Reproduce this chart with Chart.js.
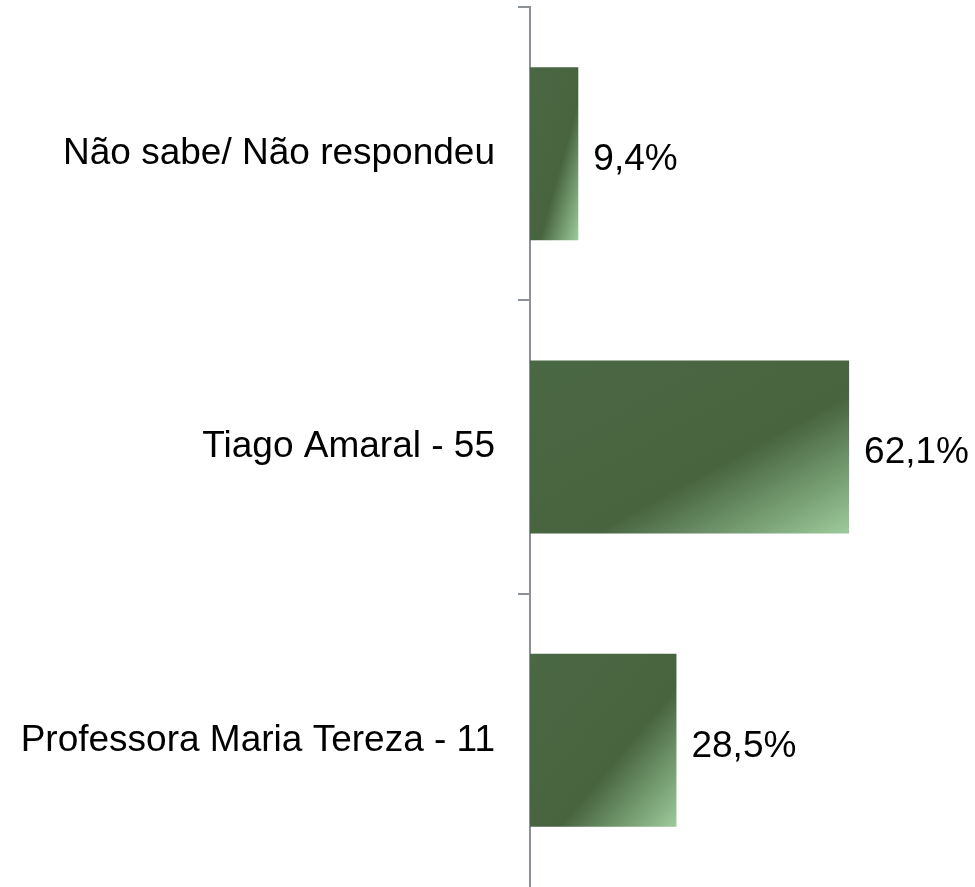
<!DOCTYPE html>
<html>
<head>
<meta charset="utf-8">
<script src="https://cdn.jsdelivr.net/npm/chart.js@4"></script>
<style>
  html, body { margin: 0; padding: 0; background: #fff; }
  #wrap { width: 975px; height: 887px; }
</style>
</head>
<body>
<div id="wrap"><canvas id="grafico"></canvas></div>
<script>
var categorias = ["Não sabe/ Não respondeu", "Tiago Amaral - 55", "Professora Maria Tereza - 11"];
var valores = [9.4, 62.1, 28.5];
var escalaMax = 86.6;
var espessura = 0.59;

// gradiente diagonal como no Office: escuro até ~60%, clareando no canto inferior direito
function gradienteBarra(c) {
  var chart = c.chart;
  var sx = chart.scales.x, sy = chart.scales.y;
  if (!chart.chartArea || !sx || !sy) return '#4a6843';
  var x0 = sx.getPixelForValue(0), x1 = sx.getPixelForValue(valores[c.dataIndex]);
  var banda = chart.chartArea.height / categorias.length;
  var cy = sy.getPixelForValue(c.dataIndex);
  var h = banda * espessura, w = x1 - x0;
  if (!isFinite(w) || !isFinite(h) || !isFinite(cy) || w <= 0 || h <= 0) return '#4a6843';
  var cx = (x0 + x1) / 2;
  var L = Math.sqrt(w * w + h * h);
  var d = w * h / L;
  var ux = h / L, uy = w / L;
  var g = chart.ctx.createLinearGradient(cx - d * ux, cy - d * uy, cx + d * ux, cy + d * uy);
  g.addColorStop(0, '#4a6843');
  g.addColorStop(0.6, '#47643f');
  g.addColorStop(1, '#9dcb9c');
  return g;
}

var rotulosValor = {
  id: 'rotulosValor',
  afterDatasetsDraw: function(chart) {
    var ctx = chart.ctx;
    var meta = chart.getDatasetMeta(0);
    ctx.save();
    ctx.font = '37px "Liberation Sans", Arial, sans-serif';
    ctx.fillStyle = '#000';
    ctx.textAlign = 'left';
    ctx.textBaseline = 'middle';
    meta.data.forEach(function(bar, i) {
      ctx.fillText(valores[i].toFixed(1).replace('.', ',') + '%', bar.x + 15, bar.y + 6);
    });
    ctx.restore();
  }
};

var ctx = document.getElementById('grafico');
var grafico = new Chart(ctx, {
  type: 'bar',
  data: {
    labels: categorias,
    datasets: [{
      data: valores,
      backgroundColor: gradienteBarra,
      borderWidth: 0,
      categoryPercentage: 1,
      barPercentage: espessura
    }]
  },
  options: {
    indexAxis: 'y',
    responsive: true,
    maintainAspectRatio: false,
    animation: false,
    layout: { padding: { top: 7, right: 0, bottom: 0, left: 0 } },
    plugins: {
      legend: { display: false },
      tooltip: { enabled: false }
    },
    scales: {
      x: {
        display: false,
        min: 0,
        max: escalaMax
      },
      y: {
        afterFit: function(scale) {
          scale.width = 530;
          scale.paddingTop = 0;
          scale.paddingBottom = 0;
        },
        grid: {
          drawOnChartArea: false,
          tickLength: 12,
          color: '#8c9198',
          // a última marca (na borda inferior) fica fora do quadro no original
          tickColor: function(c) { return c.tick ? '#8c9198' : 'rgba(0,0,0,0)'; },
          lineWidth: 2
        },
        border: { display: true, color: '#8c9198', width: 2 },
        ticks: {
          padding: 23,
          color: '#000',
          font: { family: '"Liberation Sans", Arial, sans-serif', size: 37 }
        }
      }
    }
  },
  plugins: [rotulosValor]
});
</script>
</body>
</html>
